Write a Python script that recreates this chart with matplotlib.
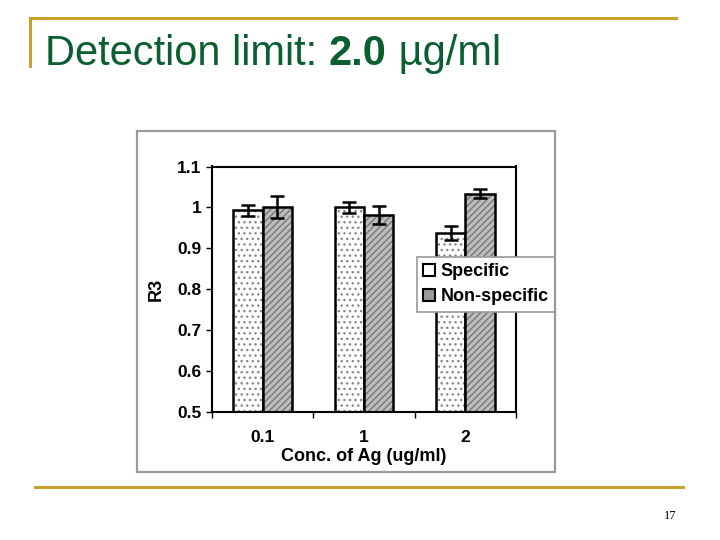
import numpy as np
import matplotlib
matplotlib.use('Agg')
import matplotlib.pyplot as plt
from matplotlib.patches import Rectangle
from matplotlib.lines import Line2D

# data
categories = ['0.1', '1', '2']
specific = [0.993, 1.000, 0.938]
specific_err = [0.014, 0.013, 0.017]
nonspecific = [1.001, 0.982, 1.034]
nonspecific_err = [0.026, 0.022, 0.010]

plt.rcParams['font.family'] = ['Liberation Sans', 'DejaVu Sans']
gold = '#c9a22c'
green = '#0b5e30'

fig = plt.figure(figsize=(7.2, 5.4), dpi=100)
W, H = 720, 540

def fx(px): return px / W
def fy(py): return 1 - py / H

# slide decoration
fig.add_artist(Line2D([fx(30), fx(676)], [fy(18), fy(18)], color=gold, lw=2.2))
fig.add_artist(Line2D([fx(30), fx(30)], [fy(18), fy(66)], color=gold, lw=2.2))
fig.add_artist(Line2D([fx(35), fx(683)], [fy(487), fy(487)], color=gold, lw=2.2))

# title with bold value
renderer = fig.canvas.get_renderer()
x0 = fx(45)
parts = [('Detection limit: ', 'normal'), ('2.0', 'bold'), (' µg/ml', 'normal')]
for s, w in parts:
    t = fig.text(x0, fy(65), s, fontsize=30, color=green, fontweight=w, va='baseline', ha='left')
    bb = t.get_window_extent(renderer=renderer)
    x0 += bb.width / W

fig.text(fx(670), fy(516), '17', fontsize=9, family='Liberation Serif', ha='center', va='center')

# scanned chart border
fig.add_artist(Rectangle((fx(137), fy(472)), fx(555) - fx(137), fy(131) - fy(472),
                         fill=False, edgecolor='#9a9a9a', lw=1.6))

ax = fig.add_axes([fx(212), fy(412), fx(516) - fx(212), fy(166.5) - fy(412)])
x = np.arange(len(categories))
w = 0.29

# specific: white with speckle; non-specific: gray with hatch
ax.bar(x - w / 2, specific, w, color='white', edgecolor='#8a8a8a', hatch='...', lw=0)
ax.bar(x - w / 2, specific, w, color='none', edgecolor='black', lw=1.8)
ax.bar(x + w / 2, nonspecific, w, color='#bdbdbd', edgecolor='#777777', hatch='/////', lw=0)
ax.bar(x + w / 2, nonspecific, w, color='none', edgecolor='black', lw=1.8)
ax.errorbar(x - w / 2, specific, yerr=specific_err, fmt='none', ecolor='black', capsize=5, elinewidth=1.8, capthick=1.8)
ax.errorbar(x + w / 2, nonspecific, yerr=nonspecific_err, fmt='none', ecolor='black', capsize=5, elinewidth=1.8, capthick=1.8)

ax.set_ylim(0.5, 1.1)
ax.set_xlim(-0.5, 2.5)
ax.set_yticks(np.arange(0.5, 1.11, 0.1))
ax.set_yticklabels(['0.5', '0.6', '0.7', '0.8', '0.9', '1', '1.1'], fontweight='bold')
ax.set_xticks(x)
ax.set_xticklabels(categories, fontweight='bold')
ax.set_xticks([-0.5, 0.5, 1.5, 2.5], minor=True)
ax.tick_params(axis='x', which='major', length=0, labelsize=12.5, pad=13)
ax.tick_params(axis='x', which='minor', length=4, width=1)
ax.tick_params(axis='y', length=4, width=1, labelsize=12.5)
for sp in ax.spines.values():
    sp.set_linewidth(1.5)

ax.set_xlabel('Conc. of Ag (ug/ml)', fontsize=13, fontweight='bold', labelpad=2)
ax.set_ylabel('R3', fontsize=13, fontweight='bold', labelpad=9)

handles = [Rectangle((0, 0), 1, 1, facecolor='white', edgecolor='black', lw=1.5),
           Rectangle((0, 0), 1, 1, facecolor='#9a9a9a', edgecolor='black', lw=1.5)]
leg = ax.legend(handles, ['Specific', 'Non-specific'], loc='upper left',
                bbox_to_anchor=(fx(417), fy(257)), bbox_transform=fig.transFigure,
                borderaxespad=0, fancybox=False, edgecolor='#9a9a9a',
                prop={'size': 13, 'weight': 'bold'},
                handlelength=0.65, handleheight=0.65, handletextpad=0.3,
                borderpad=0.35, labelspacing=0.45, framealpha=1)
leg.get_frame().set_linewidth(1.2)

fig.savefig('out.png', dpi=100)
